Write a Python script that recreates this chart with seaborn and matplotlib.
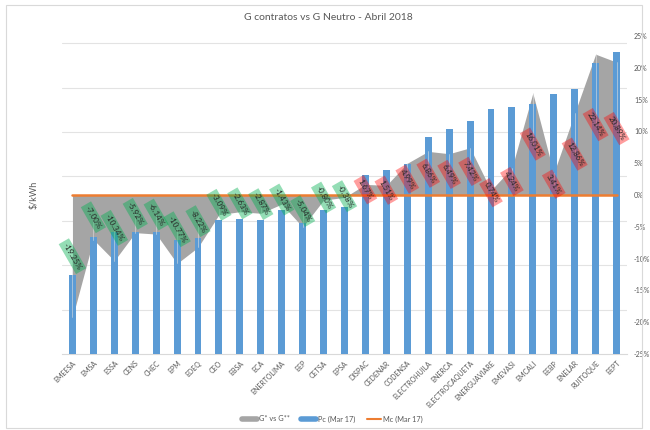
import numpy as np
import pandas as pd
import matplotlib
matplotlib.use("Agg")
import matplotlib.pyplot as plt
from matplotlib.lines import Line2D
from matplotlib.patches import Rectangle
import seaborn as sns

categories = ["EMEESA", "EMSA", "ESSA", "CENS", "CHEC", "EPM", "EDEQ", "CEO", "EBSA", "ECA",
              "ENERTOLIMA", "EEP", "CETSA", "EPSA", "DISPAC", "CEDENAR", "CODENSA",
              "ELECTROHUILA", "ENERCA", "ELECTROCAQUETA", "ENERGUAVIARE", "EMEVASI",
              "EMCALI", "EEBP", "ENELAR", "RUITOQUE", "EEPT"]
# G* vs G** (%), right axis
g_diff = [-19.25, -7.00, -10.34, -5.92, -6.14, -10.77, -8.22, -3.09, -2.63, -2.87,
          -1.43, -5.04, -0.80, -0.38, 1.67, 1.51, 4.99, 6.86, 6.49, 7.42,
          0.74, 4.24, 16.01, 3.41, 12.86, 22.14, 20.89]
# Pc (Mar 17), left axis ($/kWh)
pc = [89, 132, 137, 137, 137, 128, 131, 151, 152, 151,
      162, 148, 162, 166, 202, 207, 214, 244, 253, 262,
      276, 278, 282, 293, 298, 328, 340]
# Mc (Mar 17), left axis ($/kWh)
mc = [179] * len(categories)
right_ticks = [-25, -20, -15, -10, -5, 0, 5, 10, 15, 20, 25]
left_grid = [0, 50, 100, 150, 200, 250, 300, 350]

sns.set_style("white")
plt.rcParams["font.family"] = ["Lato", "DejaVu Sans"]

GRAY = "#a5a5a5"
BLUE = "#5b9bd5"
ORANGE = "#ed7d31"
TXT = "#595959"

L_MAX = 358.0
R_MIN, R_MAX = -25, 25

fig = plt.figure(figsize=(6.5, 4.3), dpi=100)
ax = fig.add_axes([62 / 650, 1 - 354 / 430, 565 / 650, 318 / 430])

x = np.arange(len(categories))
df = pd.DataFrame({"cat": categories, "g": g_diff, "pc": pc, "mc": mc, "x": x})

# gridlines of the left axis, drawn behind the area
for v in left_grid[1:]:
    p = R_MIN + v / L_MAX * (R_MAX - R_MIN)
    ax.axhline(p, color="#e3e3e3", lw=0.8, zorder=0)

ax.fill_between(df["x"], 0, df["g"], color=GRAY, lw=0, zorder=1)
ax.set_ylim(R_MIN, R_MAX)

axb = ax.twinx()
sns.barplot(data=df, x="cat", y="pc", ax=axb, color=BLUE, saturation=1,
            width=0.33, zorder=2, edgecolor="none", linewidth=0)
sns.lineplot(x=df["x"], y=df["mc"], ax=axb, color=ORANGE, lw=1.8, zorder=3)
axb.set_ylim(0, L_MAX)
axb.set_yticks([])
axb.yaxis.set_label_position("left")
axb.set_ylabel("$/kWh", fontsize=6.5, color=TXT, labelpad=17)
axb.set_xlabel("")

# right-hand percent axis belongs to the area series
ax.set_yticks(right_ticks)
ax.set_yticklabels([f"{t}%" for t in right_ticks])
ax.yaxis.tick_right()
ax.tick_params(axis="y", which="both", left=False, right=False, labelleft=False,
               labelright=True, length=0, labelsize=5, labelcolor=TXT, pad=5)

# data labels at the middle of each area segment
for i, v in enumerate(g_diff):
    fc = "#00b050" if v < 0 else "#ff0000"
    al = 0.42 if v < 0 else 0.38
    axb.plot([i, i], [v / 2, v], transform=ax.transData, color="#e0e0e0",
             lw=0.5, alpha=0.8, zorder=4)
    axb.text(i, v / 2, f"{v:.2f}%", transform=ax.transData, rotation=-60,
             ha="center", va="center", fontsize=5.8, color="#262626", zorder=5,
             rotation_mode="anchor",
             bbox=dict(boxstyle="square,pad=0.3", fc=fc, ec="none", alpha=al))

ax.set_xlim(-0.5, len(categories) - 0.5)
axb.set_xlim(-0.5, len(categories) - 0.5)
ax.set_xticks(x)
ax.set_xticklabels(categories, rotation=45, ha="right", rotation_mode="anchor",
                   fontsize=5, color=TXT)
ax.tick_params(axis="x", length=0, pad=4)

for a in (ax, axb):
    for s in ("top", "left", "right", "bottom"):
        a.spines[s].set_visible(False)
ax.spines["bottom"].set_visible(True)
ax.spines["bottom"].set_color("#d9d9d9")
ax.spines["bottom"].set_linewidth(0.8)

fig.text(0.505, 1 - 18 / 430, "G contratos vs G Neutro - Abril 2018",
         ha="center", va="center", fontsize=7.5, color=TXT)

handles = [Line2D([0], [0], color=GRAY, lw=4),
           Line2D([0], [0], color=BLUE, lw=4),
           Line2D([0], [0], color=ORANGE, lw=1.5)]
fig.legend(handles, ["G* vs G**", "Pc (Mar 17)", "Mc (Mar 17)"],
           loc="center", bbox_to_anchor=(0.512, 1 - 419 / 430), ncol=3,
           frameon=False, fontsize=5.3, handlelength=2.0, columnspacing=1.5,
           handletextpad=0.3, labelcolor=TXT)

fig.patches.append(Rectangle((6 / 650, 1 - 428 / 430), 636 / 650, 423 / 430,
                             transform=fig.transFigure, fill=False,
                             ec="#d9d9d9", lw=0.8))

fig.savefig("out.png", dpi=100)
